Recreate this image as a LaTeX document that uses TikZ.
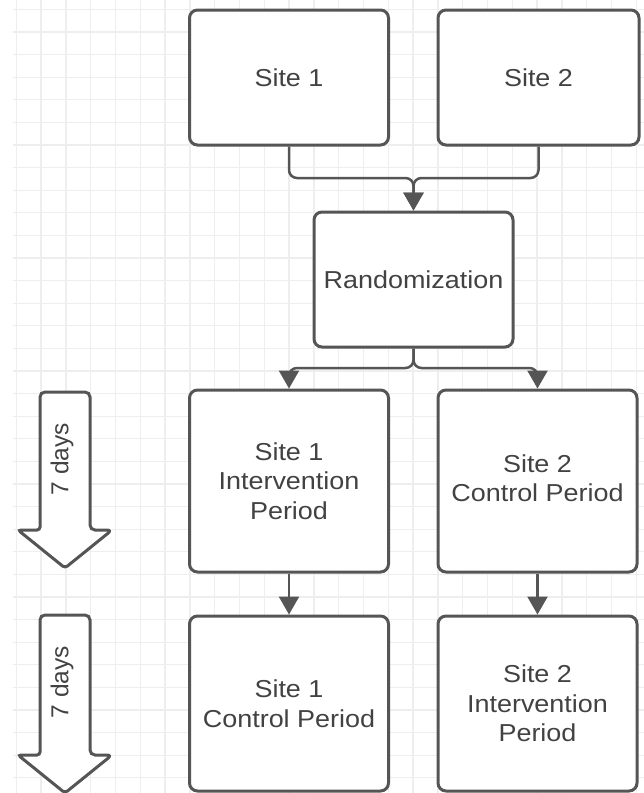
\documentclass[tikz,border=0pt]{standalone}
\usepackage{fontspec}
\setmainfont[FakeStretch=1.1]{Liberation Sans}
\newfontfamily\plainsans{Liberation Sans}
\usetikzlibrary{arrows.meta}
\definecolor{edge}{HTML}{555555}
\definecolor{txt}{HTML}{424242}
\definecolor{gridc}{HTML}{EEEEEE}
\tikzset{
  box/.style={draw=edge, line width=3pt, rounded corners=8pt, fill=white,
    minimum width=199pt, align=center, text=txt, inner sep=0pt,
    font=\fontsize{24.5}{29.5}\selectfont},
  conn/.style={draw=edge, line width=2.5pt, rounded corners=8pt,
    -{Triangle[width=20pt,length=18pt]}},
  bigarrow/.style={draw=edge, line width=3pt, fill=white, rounded corners=5pt},
  daylabel/.style={rotate=90, text=txt, font=\plainsans\fontsize{24.5}{29.5}\selectfont}
}
\begin{document}
\begin{tikzpicture}[x=1pt,y=-1pt]
\useasboundingbox (0,0) rectangle (644,793);
\fill[white] (0,0) rectangle (644,793);
% grid
\foreach \i in {0,...,25} {
  \draw[gridc, line width=1.3pt] ({16.3+24.8*\i},0) -- ({16.3+24.8*\i},793);
}
\foreach \j in {0,...,34} {
  \draw[gridc, line width=1.3pt] (13,{9.4+22.6*\j}) -- (644,{9.4+22.6*\j});
}
% boxes
\node[box, minimum height=135pt] (s1) at (289,77.5) {Site 1};
\node[box, minimum height=135pt, minimum width=201pt] (s2) at (538.5,77.5) {Site 2};
\node[box, minimum height=135pt] (rand) at (413.5,279.5) {Randomization};
\node[box, minimum height=182pt] (s1i) at (289,481) {Site 1\\Intervention\\Period};
\node[box, minimum height=182pt] (s2c) at (537.5,481)
  {\raisebox{5pt}{\begin{tabular}{@{}c@{}}Site 2\\Control Period\end{tabular}}};
\node[box, minimum height=175pt] (s1c) at (289,703.5) {Site 1\\Control Period};
\node[box, minimum height=175pt] (s2i) at (537.5,703.5) {Site 2\\Intervention\\Period};
% connectors
\coordinate (j1) at (413.5,178);
\coordinate (j2) at (413.5,368);
\draw[conn] (s1.south) |- (j1) -- (rand.north);
\draw[conn] (s2.south) |- (j1) -- (rand.north);
\draw[conn] (rand.south) -- (j2) -| (s1i.north);
\draw[conn] (rand.south) -- (j2) -| (s2c.north);
\draw[conn, rounded corners=0pt] (s1i.south) -- (s1c.north);
\draw[conn, rounded corners=0pt] (s2c.south) -- (s2i.north);
% big 7-day arrows
\draw[bigarrow] (40,530) -- (40,392) -- (90,392) -- (90,530) -- (112,530)
  [rounded corners=3pt] -- (65,568) -- (18,530) -- cycle;
\node[daylabel] (d1) at (62,459) {7 days};
\draw[bigarrow] (40,755) -- (40,615) -- (90,615) -- (90,755) -- (112,755)
  [rounded corners=3pt] -- (65,793) -- (18,755) -- cycle;
\node[daylabel] (d2) at (62,682) {7 days};
\end{tikzpicture}
\end{document}
